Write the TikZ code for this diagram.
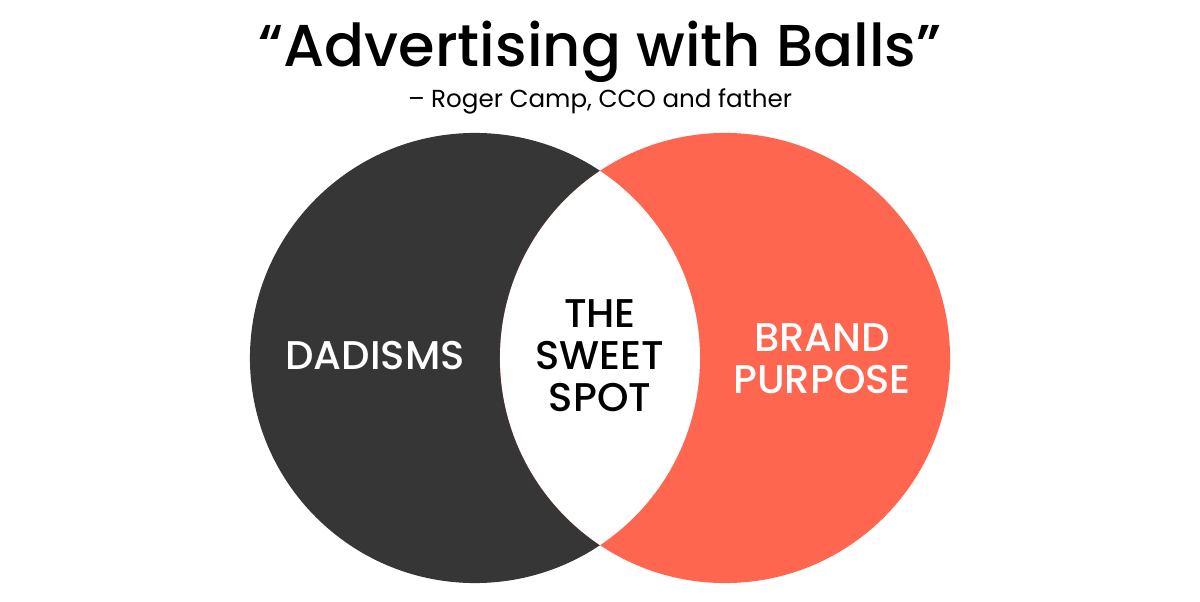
\documentclass[tikz,border=0pt]{standalone}
\usepackage{fontspec}
\setmainfont{Poppins}
\newfontfamily\headfont{Poppins Medium}
\usepackage{tikz}
\usetikzlibrary{positioning}
\definecolor{dark}{HTML}{363636}
\definecolor{coral}{HTML}{FF6650}

\begin{document}
\begin{tikzpicture}[
  x=0.025cm,y=-0.025cm,
  ring/.style={circle,minimum size=11.25cm,inner sep=0pt},
  label/.style={align=center,font=\headfont\fontsize{28.5}{30}\selectfont}
]
\useasboundingbox[fill=white] (0,0) rectangle (1200,602);
% title
\node[font=\headfont\fontsize{42}{46}\selectfont] (title) at (600,52) {“Advertising with Balls”};
\node[font=\fontsize{17.5}{20}\selectfont] (quote) at (600,101) {– Roger Camp, CCO and father};
% the two circles
\node[ring,fill=dark] (dad) at (475,358) {};
\node[ring,fill=coral] (brand) at (725,358) {};
\begin{scope}
  \clip (dad.center) circle[radius=225];
  \fill[white] (brand.center) circle[radius=225];
\end{scope}
% labels
\node[label,text=white] (dadisms) at (375,356) {DADISMS};
\node[label,text=black] (sweet) at (600,356) {THE\\SWEET\\SPOT};
\node[label,text=white] (purpose) at (822,359) {BRAND\\PURPOSE};
\end{tikzpicture}
\end{document}
